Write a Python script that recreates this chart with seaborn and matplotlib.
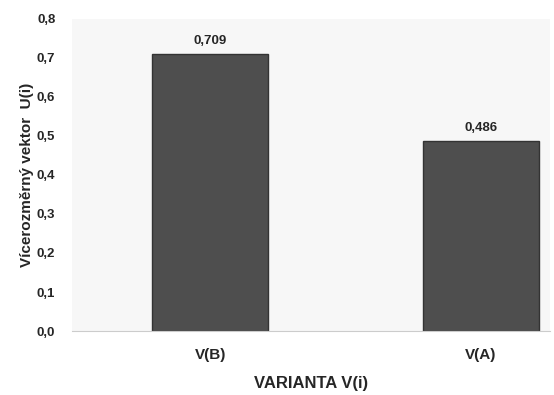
import matplotlib
matplotlib.use('Agg')
import matplotlib.pyplot as plt
import seaborn as sns
import pandas as pd
import numpy as np

variants = ['V(B)', 'V(A)']
values = [0.709, 0.486]
value_labels = ['0,709', '0,486']
y_ticks = [0.0, 0.1, 0.2, 0.3, 0.4, 0.5, 0.6, 0.7, 0.8]
y_tick_labels = ['0,0', '0,1', '0,2', '0,3', '0,4', '0,5', '0,6', '0,7', '0,8']

df = pd.DataFrame({'varianta': variants, 'u': values})

sns.set_style('white')
plt.rcParams['font.family'] = ['Liberation Sans', 'DejaVu Sans']

fig = plt.figure(figsize=(5.54, 3.95), dpi=100)
ax = fig.add_axes([0.130, 0.162, 0.863, 0.790])
ax.set_facecolor('#f7f7f7')

sns.barplot(data=df, x='varianta', y='u', color='#4e4e4e', width=0.43,
            saturation=1, edgecolor='#333333', linewidth=1, ax=ax)

for i, (v, lab) in enumerate(zip(values, value_labels)):
    ax.text(i, v + 0.018, lab, ha='center', va='bottom', fontsize=9.5, fontweight='bold')

ax.set_xlim(-0.51, 1.255)
ax.set_ylim(0, 0.8)
ax.set_yticks(y_ticks)
ax.set_yticklabels(y_tick_labels, fontsize=9.5, fontweight='bold')
ax.tick_params(axis='x', labelsize=11, pad=12, length=0)
ax.tick_params(axis='y', length=0, pad=12)
for lab in ax.get_xticklabels():
    lab.set_fontweight('bold')

ax.set_xlabel('VARIANTA V(i)', fontsize=12, fontweight='bold', labelpad=10)
ax.set_ylabel('Vícerozměrný vektor  U(i)', fontsize=11, fontweight='bold', labelpad=2)

for s in ['top', 'right', 'left']:
    ax.spines[s].set_visible(False)
ax.spines['bottom'].set_color('#cccccc')

fig.savefig('out.png', dpi=100)
